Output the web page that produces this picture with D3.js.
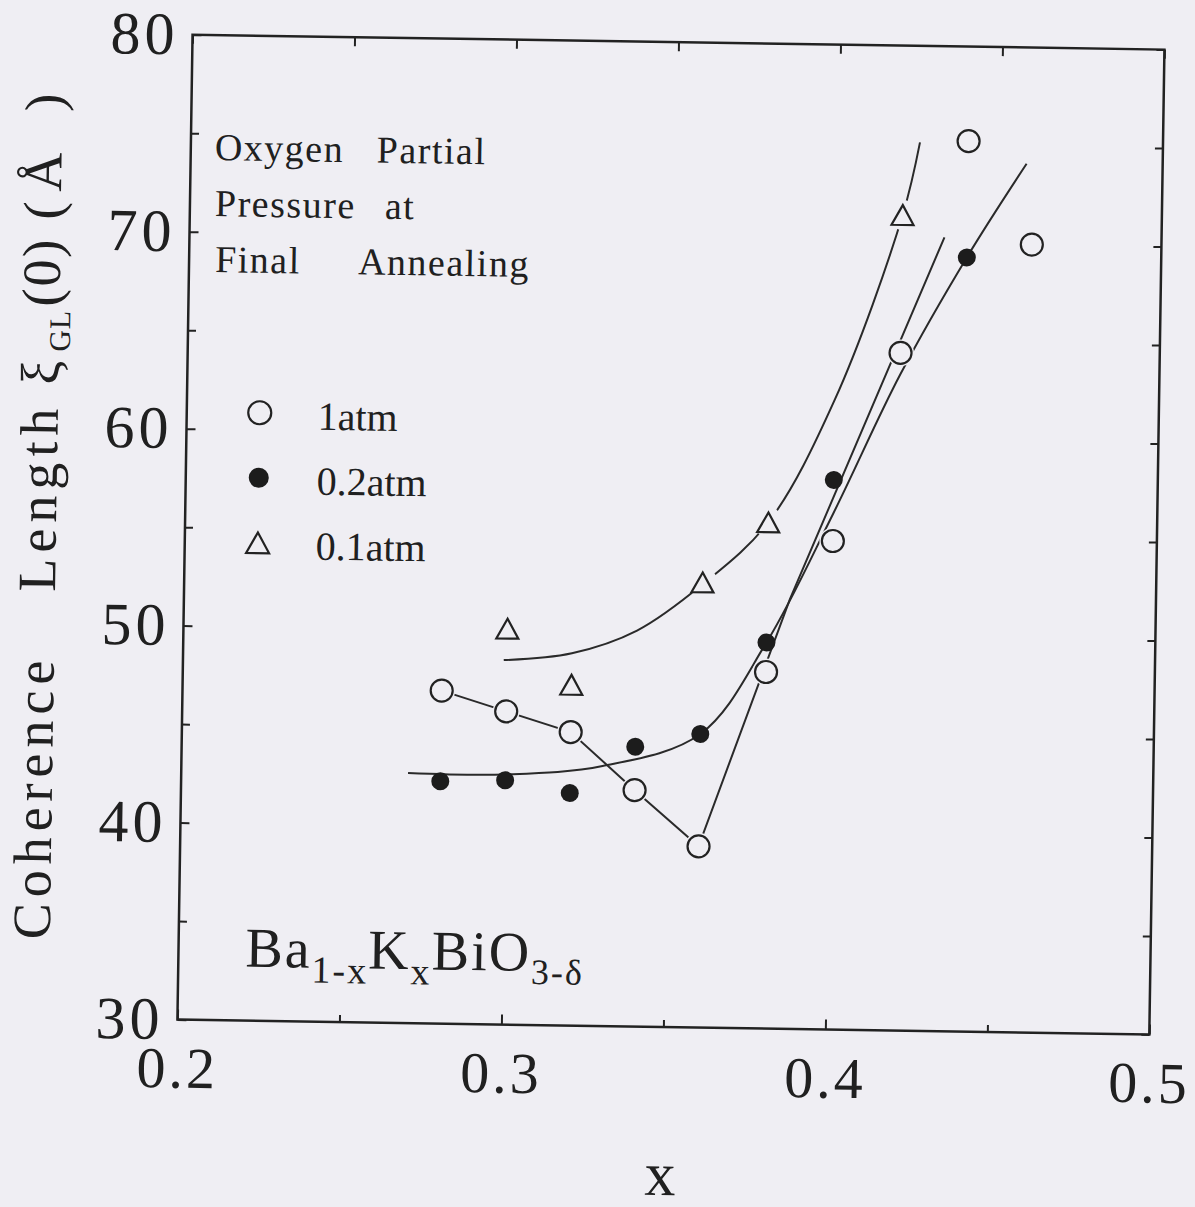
<!DOCTYPE html>
<html lang="en">
<head>
<meta charset="UTF-8">
<title>Coherence Length vs x</title>
<script src="https://cdn.jsdelivr.net/npm/d3@7"></script>
<style>
  body { margin: 0; background: #efeef3; }
  svg { display: block; }
  text { font-family: "Liberation Serif", "Times New Roman", "DejaVu Serif", serif; fill: #202020; }
</style>
</head>
<body>
<svg id="chart" width="1195" height="1207"></svg>
<script>
// measured points, one array pair per annealing pressure
const xOpen = [0.28, 0.30, 0.32, 0.34, 0.36, 0.38, 0.40, 0.42, 0.44, 0.46];
const yOpen = [46.9, 45.9, 44.9, 42.0, 39.2, 48.1, 54.8, 64.4, 75.2, 70.0];
const xFilled = [0.28, 0.30, 0.32, 0.34, 0.36, 0.38, 0.40, 0.44];
const yFilled = [42.3, 42.4, 41.8, 44.2, 44.9, 49.6, 57.9, 69.3];
const xTri = [0.30, 0.32, 0.36, 0.38, 0.42];
const yTri = [50.1, 47.3, 52.6, 55.7, 71.4];

// guide curves drawn through the points
const fitOpenX = [0.28, 0.30, 0.32, 0.34, 0.36, 0.387, 0.433];
const fitOpenY = [46.9, 45.9, 44.9, 42.0, 39.2, 51.8, 70.3];
const fitFilledX = [0.27, 0.30, 0.33, 0.36, 0.38, 0.40, 0.42, 0.44, 0.458];
const fitFilledY = [42.7, 42.7, 43.2, 44.9, 49.6, 56.2, 63.3, 69.3, 74.1];
const fitTriX = [0.299, 0.32, 0.34, 0.36, 0.38, 0.40, 0.42, 0.425];
const fitTriY = [48.5, 48.9, 50.1, 52.5, 55.7, 62.0, 71.4, 75.1];

const legendLabels = ["1atm", "0.2atm", "0.1atm"];
const xTicks = [0.2, 0.3, 0.4, 0.5];
const xMinor = [0.25, 0.35, 0.45];
const yTicks = [30, 40, 50, 60, 70, 80];
const yMinor = [35, 45, 55, 65, 75];

const bg = "#efeef3", ink = "#222";
const W = 972, H = 985;

const svg = d3.select("#chart");
svg.append("rect").attr("width", 1195).attr("height", 1207).attr("fill", bg);

// the scanned page is a little tilted
const page = svg.append("g").attr("transform", "rotate(0.88 665 530)");
const g = page.append("g").attr("transform", "translate(185,42)");

const x = d3.scaleLinear().domain([0.2, 0.5]).range([0, W]);
const y = d3.scaleLinear().domain([30, 80]).range([H, 0]);

function styleAxis(sel) {
  sel.attr("font-size", null).attr("font-family", null);
  sel.select(".domain").remove();
  sel.selectAll("line").attr("stroke", ink).attr("stroke-width", 2);
}

// major + minor ticks on all four sides, pointing in
g.append("g").attr("transform", `translate(0,${H})`)
  .call(d3.axisBottom(x).tickValues(xTicks).tickSize(-10).tickFormat(d3.format(".1f")))
  .call(styleAxis)
  .selectAll("text").attr("y", 68).attr("dy", 0)
  .style("font-size", "58px").style("letter-spacing", "3px");
g.append("g").attr("transform", `translate(0,${H})`)
  .call(d3.axisBottom(x).tickValues(xMinor).tickSize(-7).tickFormat(""))
  .call(styleAxis);
g.append("g")
  .call(d3.axisTop(x).tickValues(xTicks.concat(xMinor)).tickSize(-9).tickFormat(""))
  .call(styleAxis);

g.append("g")
  .call(d3.axisLeft(y).tickValues(yTicks).tickSize(-9).tickPadding(14).tickFormat(d3.format("d")))
  .call(styleAxis)
  .selectAll("text")
  .style("font-size", "60px").style("letter-spacing", "4px");
g.append("g")
  .call(d3.axisLeft(y).tickValues(yMinor).tickSize(-8).tickFormat(""))
  .call(styleAxis);
g.append("g").attr("transform", `translate(${W},0)`)
  .call(d3.axisRight(y).tickValues(yTicks.concat(yMinor)).tickSize(-8).tickFormat(""))
  .call(styleAxis);

g.append("rect").attr("width", W).attr("height", H)
  .attr("fill", "none").attr("stroke", ink).attr("stroke-width", 2.5);

// curves
const zip = (xs, ys) => xs.map((d, i) => [d, ys[i]]);
const lineLin = d3.line().x(d => x(d[0])).y(d => y(d[1]));
const lineSmooth = d3.line().x(d => x(d[0])).y(d => y(d[1])).curve(d3.curveCatmullRom.alpha(0.5));

const curves = g.append("g").attr("fill", "none").attr("stroke", "#2a2a2a").attr("stroke-width", 2);
curves.append("path").datum(zip(fitOpenX, fitOpenY)).attr("d", lineLin);
curves.append("path").datum(zip(fitFilledX, fitFilledY)).attr("d", lineSmooth);
curves.append("path").datum(zip(fitTriX, fitTriY)).attr("d", lineSmooth);

// markers
const triPath = s => `M0,${-s * 0.45}L${s / 2},${s * 0.45}L${-s / 2},${s * 0.45}Z`;

function drawOpen(sel, r) {
  sel.append("circle").attr("r", r + 2.5).attr("fill", bg);
  sel.append("circle").attr("r", r).attr("fill", bg).attr("stroke", ink).attr("stroke-width", 2.2);
}
function drawFilled(sel, r) {
  sel.append("circle").attr("r", r).attr("fill", "#1c1c1c");
}
function drawTri(sel, s) {
  sel.append("circle").attr("r", s * 0.68).attr("fill", bg);
  sel.append("path").attr("d", triPath(s)).attr("fill", bg).attr("stroke", ink)
    .attr("stroke-width", 2.2).attr("stroke-linejoin", "miter");
}

g.append("g").selectAll("g").data(zip(xOpen, yOpen)).join("g")
  .attr("transform", d => `translate(${x(d[0])},${y(d[1])})`)
  .each(function () { drawOpen(d3.select(this), 11); });
g.append("g").selectAll("g").data(zip(xFilled, yFilled)).join("g")
  .attr("transform", d => `translate(${x(d[0])},${y(d[1])})`)
  .each(function () { drawFilled(d3.select(this), 9); });
g.append("g").selectAll("g").data(zip(xTri, yTri)).join("g")
  .attr("transform", d => `translate(${x(d[0])},${y(d[1])})`)
  .each(function () { drawTri(d3.select(this), 22); });

// legend
const legend = page.append("g");
const drawers = [s => drawOpen(s, 11.5), s => drawFilled(s, 10), s => drawTri(s, 23)];
legendLabels.forEach((lab, i) => {
  const row = legend.append("g").attr("transform", `translate(258,${419 + i * 65})`);
  drawers[i](row);
  row.append("text").attr("x", 58).attr("y", 16).style("font-size", "40px").text(lab);
});

// annotation text
const note = page.append("g").style("font-size", "38px").style("letter-spacing", "1.5px");
[
  [[209, "Oxygen"], [371, "Partial"]],
  [[210, "Pressure"], [380, "at"]],
  [[211, "Final"], [354, "Annealing"]]
].forEach((words, i) => {
  words.forEach(w => note.append("text").attr("x", w[0]).attr("y", 167 + i * 56).text(w[1]));
});

const formula = page.append("text").attr("x", 252).attr("y", 973).style("font-size", "56px")
  .style("letter-spacing", "2px");
formula.append("tspan").text("Ba");
formula.append("tspan").attr("dy", 15).style("font-size", "38px").text("1-x");
formula.append("tspan").attr("dy", -15).text("K");
formula.append("tspan").attr("dy", 15).style("font-size", "38px").text("x");
formula.append("tspan").attr("dy", -15).text("BiO");
formula.append("tspan").attr("dy", 13).style("font-size", "36px").text("3-δ");

// axis titles
page.append("text").attr("x", 670).attr("y", 1195).attr("text-anchor", "middle")
  .style("font-size", "62px").text("x");

const yTitle = page.append("text")
  .attr("transform", "translate(56,949) rotate(-90)")
  .style("font-size", "54px").style("letter-spacing", "6px");
yTitle.append("tspan").attr("x", 0).text("Coherence");
yTitle.append("tspan").attr("x", 348).text("Length");
yTitle.append("tspan").attr("x", 555).style("letter-spacing", "0px").text("ξ");
yTitle.append("tspan").attr("x", 588).attr("dy", 11).style("font-size", "30px").style("letter-spacing", "1px").text("GL");
yTitle.append("tspan").attr("x", 633).attr("dy", -11).style("letter-spacing", "2px").text("(0)");
yTitle.append("tspan").attr("x", 720).text("(");
yTitle.append("tspan").attr("x", 748).text("Å");
yTitle.append("tspan").attr("x", 828).text(")");
</script>
</body>
</html>
